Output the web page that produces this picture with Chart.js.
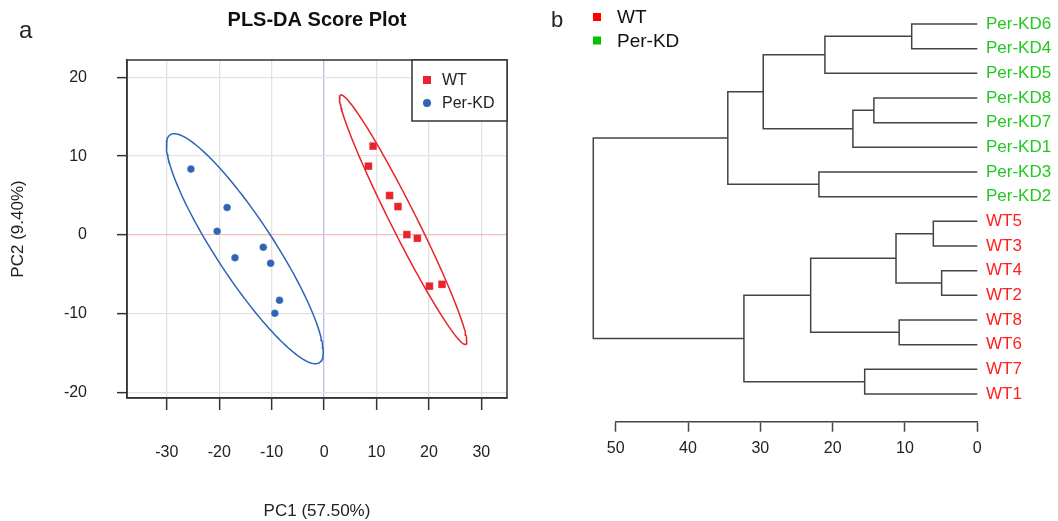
<!DOCTYPE html>
<html><head><meta charset="utf-8">
<script src="https://cdn.jsdelivr.net/npm/chart.js@4.4.1/dist/chart.umd.min.js"></script>
<style>
html,body{margin:0;padding:0;background:#fff;overflow:hidden;width:1058px;height:521px}
#ca{position:absolute;left:0;top:0}
#cb{position:absolute;left:540px;top:0}
</style></head>
<body>
<canvas id="ca" width="540" height="521"></canvas>
<canvas id="cb" width="518" height="521"></canvas>
<script>
// ---------- Panel a: PLS-DA scores ----------
const groupNames = ['WT', 'Per-KD'];
const wtPC1 = [9.35, 8.46, 12.5, 14.1, 15.8, 17.8, 20.1, 22.5];
const wtPC2 = [11.27, 8.73, 5.0, 3.6, 0.04, -0.42, -6.5, -6.27];
const kdPC1 = [-25.4, -18.5, -20.4, -17.0, -11.6, -10.2, -8.5, -9.4];
const kdPC2 = [8.35, 3.47, 0.47, -2.9, -1.57, -3.6, -8.3, -9.95];
const pcXTicks = [-30, -20, -10, 0, 10, 20, 30];
const pcYTicks = [-20, -10, 0, 10, 20];

// ---------- Panel b: dendrogram ----------
const leafOrder = ['Per-KD6','Per-KD4','Per-KD5','Per-KD8','Per-KD7','Per-KD1','Per-KD3','Per-KD2',
                   'WT5','WT3','WT4','WT2','WT8','WT6','WT7','WT1'];
const mergeA = ['WT4','WT5','Per-KD6','WT8','m2','Per-KD8','WT7','m6','m3','Per-KD3','m5','m9','m11','m12','m14'];
const mergeB = ['WT2','WT3','Per-KD4','WT6','m1','Per-KD7','WT1','Per-KD1','Per-KD5','Per-KD2','m4','m8','m7','m10','m13'];
const mergeHeight = [4.93, 6.08, 9.07, 10.8, 11.24, 14.3, 15.57, 17.2, 21.07, 21.9, 23.04, 29.6, 32.27, 34.5, 53.1];
const heightTicks = [50, 40, 30, 20, 10, 0];

const FONT = "'Liberation Sans', Arial, Helvetica, sans-serif";
Chart.defaults.font.family = FONT;
Chart.defaults.color = '#222';

const RED = '#E8232B', BLUE = '#2E63B5';

// 95% confidence ellipse derived from the group's scores
function confEllipse(xs, ys, n) {
  const k = xs.length;
  const mx = xs.reduce((a, b) => a + b, 0) / k;
  const my = ys.reduce((a, b) => a + b, 0) / k;
  let sxx = 0, syy = 0, sxy = 0;
  for (let i = 0; i < k; i++) {
    const dx = xs[i] - mx, dy = ys[i] - my;
    sxx += dx * dx; syy += dy * dy; sxy += dx * dy;
  }
  sxx /= (k - 1); syy /= (k - 1); sxy /= (k - 1);
  const c = Math.sqrt(5.991);
  const l11 = Math.sqrt(sxx), l21 = sxy / l11, l22 = Math.sqrt(syy - l21 * l21);
  const pts = [];
  for (let i = 0; i <= n; i++) {
    const t = 2 * Math.PI * i / n, co = Math.cos(t), si = Math.sin(t);
    pts.push({x: mx + c * l11 * co, y: my + c * (l21 * co + l22 * si)});
  }
  return pts;
}
const toPts = (xs, ys) => xs.map((x, i) => ({x, y: ys[i]}));

const panelA = {
  id: 'panelA',
  afterDraw(chart) {
    const {ctx, chartArea: ca} = chart;
    ctx.save();
    ctx.strokeStyle = '#333'; ctx.lineWidth = 1.5;
    ctx.strokeRect(ca.left, ca.top, ca.right - ca.left, ca.bottom - ca.top);
    // legend box
    const w = 95, h = 61, x0 = ca.right - w, y0 = ca.top;
    ctx.fillStyle = '#fff'; ctx.fillRect(x0, y0, w, h);
    ctx.strokeRect(x0, y0, w, h);
    const items = [chart.data.datasets[2], chart.data.datasets[3]];
    items.forEach((ds, i) => {
      const cy = y0 + 20 + i * 23, cx = x0 + 15;
      ctx.fillStyle = ds.backgroundColor;
      if (ds.pointStyle === 'rect') { ctx.fillRect(cx - 4, cy - 4, 8, 8); }
      else { ctx.beginPath(); ctx.arc(cx, cy, 4, 0, 2 * Math.PI); ctx.fill(); }
      ctx.fillStyle = '#222'; ctx.font = '16px ' + FONT;
      ctx.textBaseline = 'middle'; ctx.textAlign = 'left';
      ctx.fillText(ds.label, cx + 15, cy + 1);
    });
    ctx.fillStyle = '#222'; ctx.font = '24px ' + FONT;
    ctx.textBaseline = 'alphabetic';
    ctx.fillText('a', 19, 38);
    ctx.restore();
  }
};

new Chart(document.getElementById('ca'), {
  type: 'scatter',
  data: {
    datasets: [
      {label: 'WT ellipse', data: confEllipse(wtPC1, wtPC2, 160), showLine: true, borderColor: RED,
       borderWidth: 1.5, pointRadius: 0, fill: false, tension: 0},
      {label: 'Per-KD ellipse', data: confEllipse(kdPC1, kdPC2, 160), showLine: true, borderColor: BLUE,
       borderWidth: 1.5, pointRadius: 0, fill: false, tension: 0},
      {label: groupNames[0], data: toPts(wtPC1, wtPC2), pointStyle: 'rect', pointRadius: 5.4,
       backgroundColor: RED, borderColor: 'rgba(255,255,255,0.5)', borderWidth: 0.5},
      {label: groupNames[1], data: toPts(kdPC1, kdPC2), pointStyle: 'circle', pointRadius: 3.8,
       backgroundColor: BLUE, borderColor: 'rgba(255,255,255,0.5)', borderWidth: 0.5}
    ]
  },
  options: {
    responsive: false, animation: false, devicePixelRatio: 1,
    layout: {padding: {left: 0, right: 33, top: 0, bottom: 0}},
    plugins: {
      legend: {display: false}, tooltip: {enabled: false},
      title: {display: true, text: 'PLS-DA Score Plot', fullSize: false, color: '#111',
              font: {size: 20, weight: 'bold', lineHeight: 1.2}, padding: {top: 8, bottom: 28}}
    },
    scales: {
      x: {
        type: 'linear', min: -37.6, max: 34.9,
        afterBuildTicks: s => { s.ticks = pcXTicks.map(v => ({value: v})); },
        ticks: {padding: 33.4, font: {size: 16}, color: '#222', maxRotation: 0, autoSkip: false},
        grid: {color: c => (c.tick && c.tick.value === 0) ? 'rgba(170,170,235,0.8)' : '#e2e2e2',
               lineWidth: 1.3, tickLength: 12, tickColor: '#333', tickWidth: 1.5},
        border: {display: true, color: '#333', width: 1.5},
        title: {display: true, text: 'PC1 (57.50%)', color: '#222', font: {size: 17, lineHeight: 1.1},
                padding: {top: 0, bottom: 0}},
        afterFit: s => { s.height = 123; }
      },
      y: {
        type: 'linear', min: -20.7, max: 22.2,
        afterBuildTicks: s => { s.ticks = pcYTicks.map(v => ({value: v})); },
        ticks: {padding: 30, font: {size: 16}, color: '#222', autoSkip: false},
        grid: {color: c => (c.tick && c.tick.value === 0) ? 'rgba(235,175,175,0.8)' : '#e2e2e2',
               lineWidth: 1.3, tickLength: 10, tickColor: '#333', tickWidth: 1.5},
        border: {display: true, color: '#333', width: 1.5},
        title: {display: true, text: 'PC2 (9.40%)', color: '#222', font: {size: 17, lineHeight: 1.2},
                padding: {top: 8, bottom: 0}},
        afterFit: s => { s.width = 127; }
      }
    }
  },
  plugins: [panelA]
});

// ---------- dendrogram construction ----------
const nodes = {};
leafOrder.forEach((name, i) => { nodes[name] = {x: 0, y: i + 1}; });
const dendroSets = mergeHeight.map((h, i) => {
  const a = nodes[mergeA[i]], b = nodes[mergeB[i]];
  nodes['m' + (i + 1)] = {x: h, y: (a.y + b.y) / 2};
  return {
    label: 'm' + (i + 1),
    data: [{x: a.x, y: a.y}, {x: h, y: a.y}, {x: h, y: b.y}, {x: b.x, y: b.y}],
    borderColor: '#444', borderWidth: 1.5, pointRadius: 0, fill: false, tension: 0,
    clip: false, showLine: true
  };
});
const isWT = name => name.indexOf('WT') === 0;
const LEAF_RED = '#FF2020', LEAF_GREEN = '#22C922';
const legendColors = ['#FF0000', '#00C000'];

const panelB = {
  id: 'panelB',
  afterDraw(chart) {
    const ctx = chart.ctx;
    ctx.save();
    ctx.fillStyle = '#222'; ctx.font = '22px ' + FONT; ctx.textBaseline = 'alphabetic';
    ctx.fillText('b', 11, 27);
    groupNames.forEach((g, i) => {
      const cx = 57, cy = 17 + i * 23.5;
      ctx.fillStyle = legendColors[i];
      ctx.fillRect(cx - 4, cy - 4, 8, 8);
      ctx.fillStyle = '#111'; ctx.font = '19px ' + FONT; ctx.textBaseline = 'middle';
      ctx.fillText(g, 77, cy + 1);
    });
    ctx.restore();
  }
};

new Chart(document.getElementById('cb'), {
  type: 'scatter',
  data: {datasets: dendroSets},
  options: {
    responsive: false, animation: false, devicePixelRatio: 1,
    layout: {padding: {left: 75.7, right: 0, top: 4, bottom: 0}},
    plugins: {tooltip: {enabled: false}, legend: {display: false}},
    scales: {
      x: {
        type: 'linear', reverse: true, min: 0, max: 50,
        afterBuildTicks: s => { s.ticks = heightTicks.map(v => ({value: v})); },
        ticks: {padding: 7.7, font: {size: 16}, color: '#222', maxRotation: 0, autoSkip: false},
        grid: {drawOnChartArea: false, drawTicks: true, tickLength: 10, tickColor: '#444', tickWidth: 1.5},
        border: {display: true, color: '#444', width: 1.5},
        afterFit: s => { s.height = 521 - 421.7; s.paddingLeft = 0; s.paddingRight = 0; }
      },
      y: {
        type: 'linear', position: 'right', reverse: true, min: 0.189, max: 17.123,
        afterBuildTicks: s => { s.ticks = leafOrder.map((n, i) => ({value: i + 1})); },
        ticks: {
          padding: 8.7, font: {size: 17}, autoSkip: false,
          callback: v => leafOrder[v - 1],
          color: c => isWT(leafOrder[c.tick.value - 1]) ? LEAF_RED : LEAF_GREEN
        },
        grid: {display: false, drawTicks: false},
        border: {display: false},
        afterFit: s => { s.width = 80.7; s.paddingTop = 0; s.paddingBottom = 0; }
      }
    }
  },
  plugins: [panelB]
});
</script>
</body></html>
